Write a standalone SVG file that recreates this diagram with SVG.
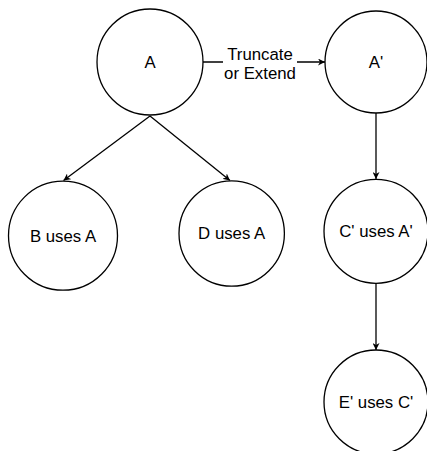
<svg xmlns="http://www.w3.org/2000/svg" width="427" height="451" viewBox="0 0 427 451">
<style>
.node{fill:#fff;stroke:#000;stroke-width:1.3}
.lbl{font-family:"Liberation Sans",Arial,sans-serif;font-size:16.8px;fill:#000;text-anchor:middle}
.edge{fill:none;stroke:#000;stroke-width:1.3}
</style>
<defs>
<marker id="arr" viewBox="0 0 10 10" refX="10" refY="5" markerWidth="7" markerHeight="7" markerUnits="userSpaceOnUse" orient="auto">
<path d="M0,0 L10,5 L0,10 L3,5 z" fill="#000"/>
</marker>
</defs>
<g id="connectors">
<line class="edge" x1="150" y1="116" x2="63.5" y2="180.5" marker-end="url(#arr)"/>
<line class="edge" x1="150" y1="116" x2="230" y2="180.5" marker-end="url(#arr)"/>
<line class="edge" x1="203" y1="62" x2="325" y2="62" marker-end="url(#arr)"/>
<line class="edge" x1="376" y1="113" x2="376" y2="179" marker-end="url(#arr)"/>
<line class="edge" x1="376" y1="283" x2="376" y2="350" marker-end="url(#arr)"/>
<g id="edge-label">
<rect x="223" y="45" width="74" height="36" fill="#fff"/>
<text class="lbl" x="260" y="59.5">Truncate</text>
<text class="lbl" x="260" y="78.5">or Extend</text>
</g>
</g>
<g id="node-A">
<circle class="node" cx="150" cy="62" r="53"/>
<text class="lbl" x="150" y="68">A</text>
</g>
<g id="node-A2">
<circle class="node" cx="376" cy="62" r="51"/>
<text class="lbl" x="376" y="68">A'</text>
</g>
<g id="node-B">
<circle class="node" cx="63" cy="235.7" r="54.5"/>
<text class="lbl" x="63" y="241.7">B uses A</text>
</g>
<g id="node-D">
<circle class="node" cx="231.7" cy="233.5" r="52.7"/>
<text class="lbl" x="231.7" y="239.3">D uses A</text>
</g>
<g id="node-C2">
<circle class="node" cx="376" cy="231.3" r="52"/>
<text class="lbl" x="376" y="237.3">C' uses A'</text>
</g>
<g id="node-E2">
<circle class="node" cx="376" cy="402" r="52"/>
<text class="lbl" x="376" y="408.3">E' uses C'</text>
</g>
</svg>
